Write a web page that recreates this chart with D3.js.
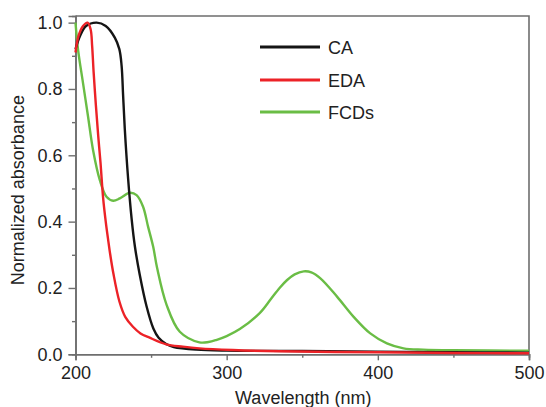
<!DOCTYPE html>
<html>
<head>
<meta charset="utf-8">
<script src="https://cdn.jsdelivr.net/npm/d3@7"></script>
<style>
  html, body { margin: 0; padding: 0; background: #fff; }
  svg { display: block; font-family: "Liberation Sans", Arial, sans-serif; }
</style>
</head>
<body>
<svg id="chart" width="546" height="407"></svg>
<script>
// ---- Data ----
const seriesNames = ["CA", "EDA", "FCDs"];
const seriesColors = ["#151515", "#ec2227", "#6abd45"];

const caWavelength = [200, 203, 207, 214, 220, 226, 229, 230.5, 231.5, 232.6, 234.8, 237.1, 239.3, 242.5, 247, 251.5, 255, 260, 265, 280, 300, 350, 400, 450, 500];
const caAbsorbance = [0.92, 0.96, 0.99, 1.00, 0.99, 0.955, 0.92, 0.87, 0.78, 0.68, 0.53, 0.41, 0.325, 0.24, 0.145, 0.078, 0.050, 0.031, 0.022, 0.014, 0.011, 0.010, 0.008, 0.006, 0.005];

const edaWavelength = [200, 202, 205, 208, 210, 211, 212, 213.5, 215, 216.5, 218.3, 220, 221.6, 223, 225, 229, 233, 238, 243, 249, 260, 271, 282, 304, 335, 400, 450, 500];
const edaAbsorbance = [0.91, 0.96, 0.99, 1.00, 0.98, 0.93, 0.85, 0.75, 0.66, 0.58, 0.47, 0.40, 0.345, 0.30, 0.245, 0.16, 0.112, 0.083, 0.063, 0.05, 0.03, 0.023, 0.018, 0.013, 0.009, 0.006, 0.004, 0.003];

const fcdWavelength = [200, 201.7, 205, 208.3, 211.6, 216.1, 220.5, 224.9, 229.3, 235.9, 240.4, 244.7, 248, 251.4, 254, 260.2, 269, 282, 288, 293, 300, 308.7, 322, 329, 335, 340, 345, 351, 356, 362, 373, 384, 395, 406, 417, 430, 450, 500];
const fcdAbsorbance = [1.00, 0.918, 0.817, 0.717, 0.616, 0.525, 0.475, 0.463, 0.47, 0.487, 0.48, 0.445, 0.385, 0.324, 0.26, 0.15, 0.068, 0.036, 0.037, 0.043, 0.055, 0.076, 0.125, 0.165, 0.20, 0.224, 0.241, 0.25, 0.247, 0.229, 0.174, 0.113, 0.063, 0.033, 0.018, 0.014, 0.012, 0.011];

const xTicks = [200, 300, 400, 500];
const xMinorTicks = [250, 350, 450];
const yTicks = [0.0, 0.2, 0.4, 0.6, 0.8, 1.0];
const yMinorTicks = [0.1, 0.3, 0.5, 0.7, 0.9];

const xLabel = "Wavelength (nm)";
const yLabel = "Normalized absorbance";

// ---- Layout ----
const svg = d3.select("#chart");
const L = 75.5, R = 529, T = 16, B = 354.3;
const x = d3.scaleLinear().domain([200, 500]).range([L, R]);
const y = d3.scaleLinear().domain([0, 1.02]).range([B, T]);

const frameColor = "#6e6e6e";

// Plot frame (top and right)
svg.append("path")
  .attr("d", `M${L},${T}H${R}V${B}`)
  .attr("fill", "none").attr("stroke", frameColor).attr("stroke-width", 1.6);

// Axes
const xAxis = d3.axisBottom(x).tickValues(xTicks).tickFormat(d3.format("d")).tickSize(6).tickPadding(6);
const xMinor = d3.axisBottom(x).tickValues(xMinorTicks).tickFormat("").tickSize(3.5);
const yAxis = d3.axisLeft(y).tickValues(yTicks).tickFormat(d3.format(".1f")).tickSize(7).tickPadding(6);
const yMinor = d3.axisLeft(y).tickValues(yMinorTicks).tickFormat("").tickSize(3.5);

function styleAxis(g) {
  g.select(".domain").attr("stroke", frameColor).attr("stroke-width", 1.6);
  g.selectAll(".tick line").attr("stroke", frameColor).attr("stroke-width", 1.4);
  g.selectAll(".tick text").attr("fill", "#222").style("font-size", "18px")
    .style("font-family", '"Liberation Sans", Arial, sans-serif');
}

svg.append("g").attr("transform", `translate(0,${B})`).call(xMinor).call(styleAxis);
svg.append("g").attr("transform", `translate(0,${B})`).call(xAxis).call(styleAxis);
svg.append("g").attr("transform", `translate(${L},0)`).call(yMinor).call(styleAxis);
svg.append("g").attr("transform", `translate(${L},0)`).call(yAxis).call(styleAxis);

// Axis titles
svg.append("text")
  .attr("x", (L + R) / 2 + 1).attr("y", 404)
  .attr("text-anchor", "middle").attr("fill", "#222")
  .style("font-size", "18px").text(xLabel);

svg.append("text")
  .attr("transform", `translate(24,${(T + B) / 2 + 5}) rotate(-90)`)
  .attr("text-anchor", "middle").attr("fill", "#222")
  .style("font-size", "18px").text(yLabel);

// Series
const series = [
  { name: seriesNames[0], color: seriesColors[0], xs: caWavelength, ys: caAbsorbance },
  { name: seriesNames[1], color: seriesColors[1], xs: edaWavelength, ys: edaAbsorbance },
  { name: seriesNames[2], color: seriesColors[2], xs: fcdWavelength, ys: fcdAbsorbance }
];

const line = d3.line()
  .x(d => x(d[0])).y(d => y(d[1]))
  .curve(d3.curveCatmullRom.alpha(0.5));

const plot = svg.append("g");
[series[2], series[0], series[1]].forEach(s => {
  const pts = s.xs.map((v, i) => [v, s.ys[i]]);
  plot.append("path")
    .datum(pts)
    .attr("d", line)
    .attr("fill", "none")
    .attr("stroke", s.color)
    .attr("stroke-width", 2.4)
    .attr("stroke-linejoin", "round");
});

// Legend
const legendX1 = 260, legendX2 = 320, legendTextX = 328;
const legendYs = [47, 80, 112];
series.forEach((s, i) => {
  svg.append("line")
    .attr("x1", legendX1).attr("x2", legendX2)
    .attr("y1", legendYs[i]).attr("y2", legendYs[i])
    .attr("stroke", s.color).attr("stroke-width", 3);
  svg.append("text")
    .attr("x", legendTextX).attr("y", legendYs[i] + 6.5)
    .attr("fill", "#222").style("font-size", "18px")
    .text(s.name);
});
</script>
</body>
</html>
